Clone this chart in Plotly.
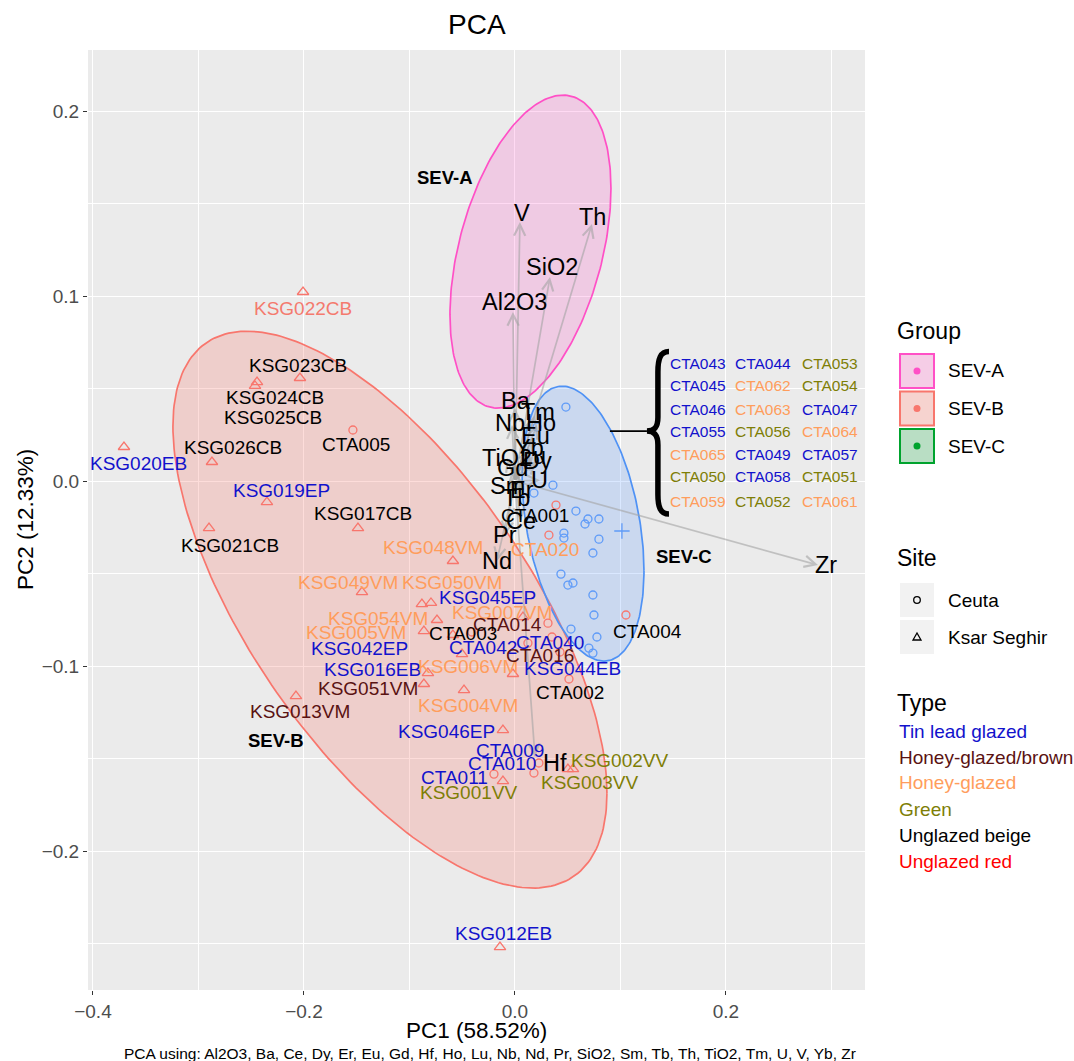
import numpy as np
import plotly.graph_objects as go

FONT = "Liberation Sans, Arial, Helvetica, sans-serif"
W, H = 1074, 1061
ML, MR, MT, MB = 88, 209, 50, 71

# ---------------- sample scores (PC1, PC2) ----------------
sample_id = ["KSG022CB", "KSG023CB", "KSG024CB", "KSG025CB", "KSG026CB", "KSG020EB",
             "CTA005", "KSG019EP", "KSG017CB", "KSG021CB", "KSG048VM", "KSG049VM",
             "KSG050VM", "KSG045EP", "KSG054VM", "KSG005VM", "KSG007VM", "KSG042EP",
             "KSG016EB", "KSG051VM", "KSG006VM", "KSG004VM", "KSG044EB", "KSG046EP",
             "KSG001VV", "KSG002VV", "KSG003VV", "KSG013VM", "KSG012EB", "CTA001",
             "CTA020", "CTA014", "CTA040", "CTA042", "CTA016", "CTA003", "CTA002",
             "CTA004", "CTA009", "CTA010", "CTA011"]
ware = [None, "Unglazed beige", "Unglazed beige", "Unglazed beige", "Unglazed beige",
        "Tin lead glazed", "Unglazed beige", "Tin lead glazed", "Unglazed beige",
        "Unglazed beige", "Honey-glazed", "Honey-glazed", "Honey-glazed", "Tin lead glazed",
        "Honey-glazed", "Honey-glazed", "Honey-glazed", "Tin lead glazed", "Tin lead glazed",
        "Honey-glazed/brown", "Honey-glazed", "Honey-glazed", "Tin lead glazed",
        "Tin lead glazed", "Green", "Green", "Green", "Honey-glazed/brown", "Tin lead glazed",
        "Unglazed beige", "Honey-glazed", "Honey-glazed/brown", "Tin lead glazed",
        "Tin lead glazed", "Honey-glazed/brown", "Unglazed beige", "Unglazed beige",
        "Unglazed beige", "Tin lead glazed", "Tin lead glazed", "Tin lead glazed"]
pc1 = [-0.2009, -0.2038, -0.2445, -0.2464, -0.2872, -0.3706, -0.1536, -0.2351, -0.1488,
       -0.2900, -0.0588, -0.1450, -0.0796, -0.0882, -0.0739, -0.0863, 0.0076, -0.0588,
       -0.0825, -0.0863, -0.0502, -0.0483, -0.0019, -0.0114, -0.0114, 0.0550, 0.0502,
       -0.2076, -0.0142, 0.0389, 0.0322, 0.0313, 0.0351, 0.0123, 0.0427, -0.0408, 0.0512,
       0.1052, 0.0227, 0.0180, -0.0199]
pc2 = [0.1022, 0.0557, 0.0535, 0.0514, 0.0103, 0.0184, 0.0276, -0.0114, -0.0254, -0.0254,
       -0.0432, -0.0600, -0.0659, -0.0665, -0.0751, -0.0811, -0.0735, -0.0832, -0.1038,
       -0.1097, -0.0935, -0.1130, -0.1043, -0.1346, -0.1622, -0.1557, -0.1557, -0.1162,
       -0.2519, -0.0130, -0.0292, -0.0768, -0.0843, -0.0876, -0.0924, -0.0816, -0.1070,
       -0.0724, -0.1524, -0.1578, -0.1584]
# repelled label positions
lab_pc1 = [-0.2009, -0.2057, -0.2275, -0.2294, -0.2673, -0.3573, -0.1507, -0.2209, -0.1441,
           -0.2701, -0.0777, -0.1583, -0.0597, -0.0265, -0.1299, -0.1507, -0.0123, -0.1469,
           -0.1355, -0.1393, -0.0445, -0.0445, 0.0550, -0.0645, -0.0445, 0.0995, 0.0711,
           -0.2038, -0.0104, 0.0190, 0.0284, -0.0066, 0.0332, -0.0303, 0.0237, -0.0493,
           0.0521, 0.1261, -0.0047, -0.0123, -0.0569]
lab_pc2 = [0.0935, 0.0622, 0.0454, 0.0346, 0.0184, 0.0097, 0.0200, -0.0049, -0.0178,
           -0.0346, -0.0357, -0.0546, -0.0551, -0.0632, -0.0741, -0.0816, -0.0708, -0.0903,
           -0.1016, -0.1119, -0.1005, -0.1211, -0.1011, -0.1351, -0.1686, -0.1508, -0.1627,
           -0.1243, -0.2443, -0.0184, -0.0368, -0.0778, -0.0870, -0.0897, -0.0941, -0.0822,
           -0.1141, -0.0811, -0.1454, -0.1524, -0.1605]

# SEV-C cluster (names listed beside the brace, 3 per row)
sevc_id = ["CTA043", "CTA044", "CTA053", "CTA045", "CTA062", "CTA054", "CTA046",
           "CTA063", "CTA047", "CTA055", "CTA056", "CTA064", "CTA065", "CTA049",
           "CTA057", "CTA050", "CTA058", "CTA051", "CTA059", "CTA052", "CTA061"]
sevc_ware = ["Tin lead glazed", "Tin lead glazed", "Green", "Tin lead glazed", "Honey-glazed",
             "Green", "Tin lead glazed", "Honey-glazed", "Tin lead glazed", "Tin lead glazed",
             "Green", "Honey-glazed", "Honey-glazed", "Tin lead glazed", "Tin lead glazed",
             "Green", "Tin lead glazed", "Green", "Honey-glazed", "Green", "Honey-glazed"]
sevc_pc1 = [0.0483, 0.0209, 0.0360, 0.0180, 0.0578, 0.0692, 0.0664, 0.0796, 0.0464, 0.0464,
            0.0796, 0.0739, 0.0436, 0.0502, 0.0550, 0.0739, 0.0749, 0.0531, 0.0777, 0.0739,
            0.0701]
sevc_pc2 = [0.0400, 0.0292, -0.0022, -0.0065, -0.0162, -0.0205, -0.0232, -0.0205, -0.0281,
            -0.0308, -0.0314, -0.0389, -0.0503, -0.0562, -0.0551, -0.0616, -0.0724, -0.0800,
            -0.0843, -0.0930, -0.0903]
# sample without site information
nosite_pc1 = [0.1014]
nosite_pc2 = [-0.0270]

# ---------------- variable loadings ----------------
var_name = ["Al2O3", "Ba", "Ce", "Dy", "Er", "Eu", "Gd", "Hf", "Ho", "Lu", "Nb", "Nd",
            "Pr", "SiO2", "Sm", "Tb", "Th", "TiO2", "Tm", "U", "V", "Yb", "Zr"]
load_pc1 = [-0.0019, 0.0000, 0.0057, 0.0209, 0.0066, 0.0161, -0.0019, 0.0190, 0.0209,
            0.0171, -0.0028, -0.0171, -0.0095, 0.0332, -0.0066, 0.0019, 0.0730, -0.0076,
            0.0190, 0.0237, 0.0047, 0.0142, 0.2872]
load_pc2 = [0.0914, 0.0395, -0.0216, 0.0108, -0.0049, 0.0232, 0.0070, -0.1492, 0.0303,
            0.0135, 0.0303, -0.0432, -0.0292, 0.1103, -0.0027, -0.0092, 0.1389, 0.0124,
            0.0357, 0.0005, 0.1400, 0.0178, -0.0454]
var_lab_pc1 = [0.0000, 0.0009, 0.0057, 0.0209, 0.0066, 0.0190, -0.0019, 0.0379, 0.0246,
               0.0171, -0.0047, -0.0171, -0.0095, 0.0351, -0.0066, 0.0019, 0.0739, -0.0076,
               0.0218, 0.0237, 0.0066, 0.0142, 0.2948]
var_lab_pc2 = [0.0968, 0.0432, -0.0216, 0.0108, -0.0049, 0.0243, 0.0070, -0.1524, 0.0314,
               0.0135, 0.0314, -0.0432, -0.0292, 0.1157, -0.0027, -0.0092, 0.1427, 0.0124,
               0.0373, 0.0005, 0.1449, 0.0178, -0.0454]

# ---------------- confidence ellipses ----------------
ell_group = ["SEV-A", "SEV-B", "SEV-C"]
ell_cx = [0.0147, -0.1185, 0.0645]
ell_cy = [0.1240, -0.0695, -0.0230]
ell_sx = [0.0763, 0.2057, 0.0578]
ell_sy = [0.0846, 0.1505, 0.0743]
ell_rho = [0.404, -0.659, -0.344]
ell_label = ["SEV-A", "SEV-B", "SEV-C"]
ell_label_pc1 = [-0.0660, -0.2265, 0.1600]
ell_label_pc2 = [0.1640, -0.1405, -0.0410]

caption = ("PCA using: Al2O3, Ba, Ce, Dy, Er, Eu, Gd, Hf, Ho, Lu, Nb, Nd, Pr, SiO2, Sm, "
           "Tb, Th, TiO2, Tm, U, V, Yb, Zr")

# ---------------- styles ----------------
TYPE_COL = {"Tin lead glazed": "#1212CC", "Honey-glazed/brown": "#5A1212",
            "Honey-glazed": "#FF9D5C", "Green": "#7E7E06", "Unglazed beige": "#000000",
            "Unglazed red": "#FF0000"}
TYPE_ORDER = ["Tin lead glazed", "Honey-glazed/brown", "Honey-glazed", "Green",
              "Unglazed beige", "Unglazed red"]
PT_COL = {"SEV-A": "#FF55C8", "SEV-B": "#F8766D", "SEV-C": "#5F9BF8"}
ELL_LINE = {"SEV-A": "#FF50C6", "SEV-B": "#F8766D", "SEV-C": "#4F92F5"}
ELL_FILL = {"SEV-A": "rgba(255,85,200,0.22)", "SEV-B": "rgba(248,118,109,0.25)",
            "SEV-C": "rgba(97,156,255,0.23)"}
KEY_LINE = {"SEV-A": "#FF50C6", "SEV-B": "#F8766D", "SEV-C": "#00A32E"}
KEY_FILL = {"SEV-A": "#F5CDE6", "SEV-B": "#F6D3CF", "SEV-C": "#B9DEC4"}

XR = [-0.4047, 0.3318]
YR = [-0.2751, 0.2330]


def px(xpix):
    return (xpix - ML) / (W - ML - MR)


def py(ypix):
    return (H - MB - ypix) / (H - MT - MB)


fig = go.Figure()

# ellipses
t = np.linspace(0, 2 * np.pi, 241)
for g, cx, cy, sx, sy, r in zip(ell_group, ell_cx, ell_cy, ell_sx, ell_sy, ell_rho):
    ex = cx + sx * np.cos(t)
    ey = cy + sy * (r * np.cos(t) + np.sqrt(1 - r * r) * np.sin(t))
    fig.add_trace(go.Scatter(x=ex, y=ey, mode="lines", fill="toself",
                             fillcolor=ELL_FILL[g], line=dict(color=ELL_LINE[g], width=1.7),
                             hoverinfo="skip", showlegend=False))

# points
ceuta_x = [x for x, s in zip(pc1, sample_id) if s.startswith("CTA")]
ceuta_y = [y for y, s in zip(pc2, sample_id) if s.startswith("CTA")]
ksar_x = [x for x, s in zip(pc1, sample_id) if s.startswith("KSG")]
ksar_y = [y for y, s in zip(pc2, sample_id) if s.startswith("KSG")]
fig.add_trace(go.Scatter(x=ksar_x, y=ksar_y, mode="markers", showlegend=False,
                         marker=dict(symbol="triangle-up-open", size=10, color=PT_COL["SEV-B"],
                                     line=dict(width=1.3))))
fig.add_trace(go.Scatter(x=ceuta_x, y=ceuta_y, mode="markers", showlegend=False,
                         marker=dict(symbol="circle-open", size=8, color=PT_COL["SEV-B"],
                                     line=dict(width=1.3))))
fig.add_trace(go.Scatter(x=sevc_pc1, y=sevc_pc2, mode="markers", showlegend=False,
                         marker=dict(symbol="circle-open", size=8, color=PT_COL["SEV-C"],
                                     line=dict(width=1.3))))
fig.add_trace(go.Scatter(x=nosite_pc1, y=nosite_pc2, mode="markers", showlegend=False,
                         marker=dict(symbol="cross-thin-open", size=11, color=PT_COL["SEV-C"],
                                     line=dict(width=1.3))))

ann = []
# loading arrows from the origin
for a1, a2 in zip(load_pc1, load_pc2):
    ann.append(dict(x=a1, y=a2, ax=0, ay=0, xref="x", yref="y", axref="x", ayref="y",
                    text="", showarrow=True, arrowhead=5, arrowsize=1.3, arrowwidth=1.7,
                    arrowcolor="rgba(165,165,165,0.6)", standoff=0, startstandoff=0))
for v, lx, ly in zip(var_name, var_lab_pc1, var_lab_pc2):
    ann.append(dict(x=lx, y=ly, xref="x", yref="y", text=v, showarrow=False,
                    font=dict(family=FONT, size=23.5, color="#000000"),
                    xanchor="center", yanchor="middle"))

# sample labels
for s, w, lx, ly in zip(sample_id, ware, lab_pc1, lab_pc2):
    col = TYPE_COL[w] if w else "#F47A6E"
    ann.append(dict(x=lx, y=ly, xref="x", yref="y", text=s, showarrow=False,
                    font=dict(family=FONT, size=19, color=col),
                    xanchor="center", yanchor="middle"))

# group names
for txt, lx, ly in zip(ell_label, ell_label_pc1, ell_label_pc2):
    ann.append(dict(x=lx, y=ly, xref="x", yref="y", text="<b>%s</b>" % txt, showarrow=False,
                    font=dict(family=FONT, size=18.5, color="#000000"),
                    xanchor="center", yanchor="middle"))

# SEV-C members listed beside the brace
col_x = [0.1735, 0.2350, 0.2986]
row_y = [0.0638, 0.0519, 0.0389, 0.0270, 0.0146, 0.0022, -0.0108]
for i, (s, w) in enumerate(zip(sevc_id, sevc_ware)):
    ann.append(dict(x=col_x[i % 3], y=row_y[i // 3], xref="x", yref="y", text=s,
                    showarrow=False, font=dict(family=FONT, size=15.5, color=TYPE_COL[w]),
                    xanchor="center", yanchor="middle"))

shapes = []
# connector and curly brace
shapes.append(dict(type="line", xref="x", yref="y", x0=0.0900, y0=0.0270, x1=0.1251, y1=0.0270,
                   line=dict(color="#000000", width=1.6)))
shapes.append(dict(type="path", xref="x", yref="y",
                   path=("M 0.1460,0.0700 C 0.1378,0.0700 0.1355,0.0660 0.1355,0.0590 "
                         "L 0.1355,0.0345 C 0.1355,0.0288 0.1318,0.0270 0.1251,0.0270 "
                         "C 0.1318,0.0270 0.1355,0.0252 0.1355,0.0195 "
                         "L 0.1355,-0.0072 C 0.1355,-0.0140 0.1378,-0.0178 0.1460,-0.0178"),
                   line=dict(color="#000000", width=5.5)))

# ---------------- legends ----------------
def legend_title(txt, ypix):
    ann.append(dict(x=px(895), y=py(ypix), xref="paper", yref="paper", text=txt,
                    showarrow=False, font=dict(family=FONT, size=23, color="#000000"),
                    xanchor="left", yanchor="middle"))


def legend_text(txt, xpix, ypix, col="#000000"):
    ann.append(dict(x=px(xpix), y=py(ypix), xref="paper", yref="paper", text=txt,
                    showarrow=False, font=dict(family=FONT, size=19, color=col),
                    xanchor="left", yanchor="middle"))


legend_title("Group", 331)
for i, g in enumerate(ell_group):
    top = 354 + i * 37.5
    shapes.append(dict(type="rect", xref="paper", yref="paper", x0=px(900), x1=px(934),
                       y0=py(top), y1=py(top + 34), fillcolor=KEY_FILL[g],
                       line=dict(color=KEY_LINE[g], width=2)))
    shapes.append(dict(type="circle", xref="paper", yref="paper", xsizemode="pixel",
                       ysizemode="pixel", xanchor=px(917), yanchor=py(top + 17),
                       x0=-3.5, x1=3.5, y0=-3.5, y1=3.5, fillcolor=KEY_LINE[g],
                       line=dict(width=0)))
    legend_text(g, 946, top + 17)

legend_title("Site", 558)
for i, s in enumerate(["Ceuta", "Ksar Seghir"]):
    top = 583 + i * 37
    shapes.append(dict(type="rect", xref="paper", yref="paper", x0=px(900), x1=px(934),
                       y0=py(top), y1=py(top + 34), fillcolor="#F2F2F2",
                       line=dict(width=0)))
    if s == "Ceuta":
        shapes.append(dict(type="circle", xref="paper", yref="paper", xsizemode="pixel",
                           ysizemode="pixel", xanchor=px(917), yanchor=py(top + 17),
                           x0=-3.3, x1=3.3, y0=-3.3, y1=3.3,
                           line=dict(color="#000000", width=1.3)))
    else:
        shapes.append(dict(type="path", xref="paper", yref="paper", xsizemode="pixel",
                           ysizemode="pixel", xanchor=px(917), yanchor=py(top + 17),
                           path="M -4,-3 L 4,-3 L 0,4 Z",
                           line=dict(color="#000000", width=1.3)))
    legend_text(s, 946, top + 17)

legend_title("Type", 703)
for i, w in enumerate(TYPE_ORDER):
    legend_text(w, 897, 731 + i * 26, TYPE_COL[w])

# titles and caption
ann.append(dict(x=0.5, y=py(25), xref="paper", yref="paper", text="PCA", showarrow=False,
                font=dict(family=FONT, size=28, color="#000000"), xanchor="center",
                yanchor="middle"))
ann.append(dict(x=0.5, y=py(1030), xref="paper", yref="paper", text="PC1 (58.52%)",
                showarrow=False, font=dict(family=FONT, size=22.5, color="#000000"),
                xanchor="center", yanchor="middle"))
ann.append(dict(x=px(25), y=0.5, xref="paper", yref="paper", text="PC2 (12.33%)",
                showarrow=False, textangle=-90,
                font=dict(family=FONT, size=22.5, color="#000000"),
                xanchor="center", yanchor="middle"))
ann.append(dict(x=px(490), y=py(1053), xref="paper", yref="paper", text=caption,
                showarrow=False, font=dict(family=FONT, size=15.5, color="#000000"),
                xanchor="center", yanchor="middle"))

axis_common = dict(showline=False, zeroline=False, ticks="outside", ticklen=4,
                   tickwidth=1.1, tickcolor="#333333", gridcolor="#FFFFFF", gridwidth=1.3,
                   tickfont=dict(family=FONT, size=19, color="#4D4D4D"),
                   minor=dict(showgrid=True, gridcolor="#FFFFFF", gridwidth=0.6, ticks=""))
fig.update_xaxes(range=XR, tickmode="array", tickvals=[-0.4, -0.2, 0.0, 0.2],
                 ticktext=["\u22120.4", "\u22120.2", "0.0", "0.2"],
                 minor_tickvals=[-0.3, -0.1, 0.1, 0.3], **axis_common)
fig.update_yaxes(range=YR, tickmode="array", tickvals=[-0.2, -0.1, 0.0, 0.1, 0.2],
                 ticktext=["\u22120.2", "\u22120.1", "0.0", "0.1", "0.2"],
                 minor_tickvals=[-0.25, -0.15, -0.05, 0.05, 0.15], **axis_common)

fig.update_layout(width=W, height=H, autosize=False,
                  margin=dict(l=ML, r=MR, t=MT, b=MB, pad=0),
                  paper_bgcolor="#FFFFFF", plot_bgcolor="#EBEBEB",
                  showlegend=False, annotations=ann, shapes=shapes,
                  font=dict(family=FONT))

fig.write_html("out.html")
